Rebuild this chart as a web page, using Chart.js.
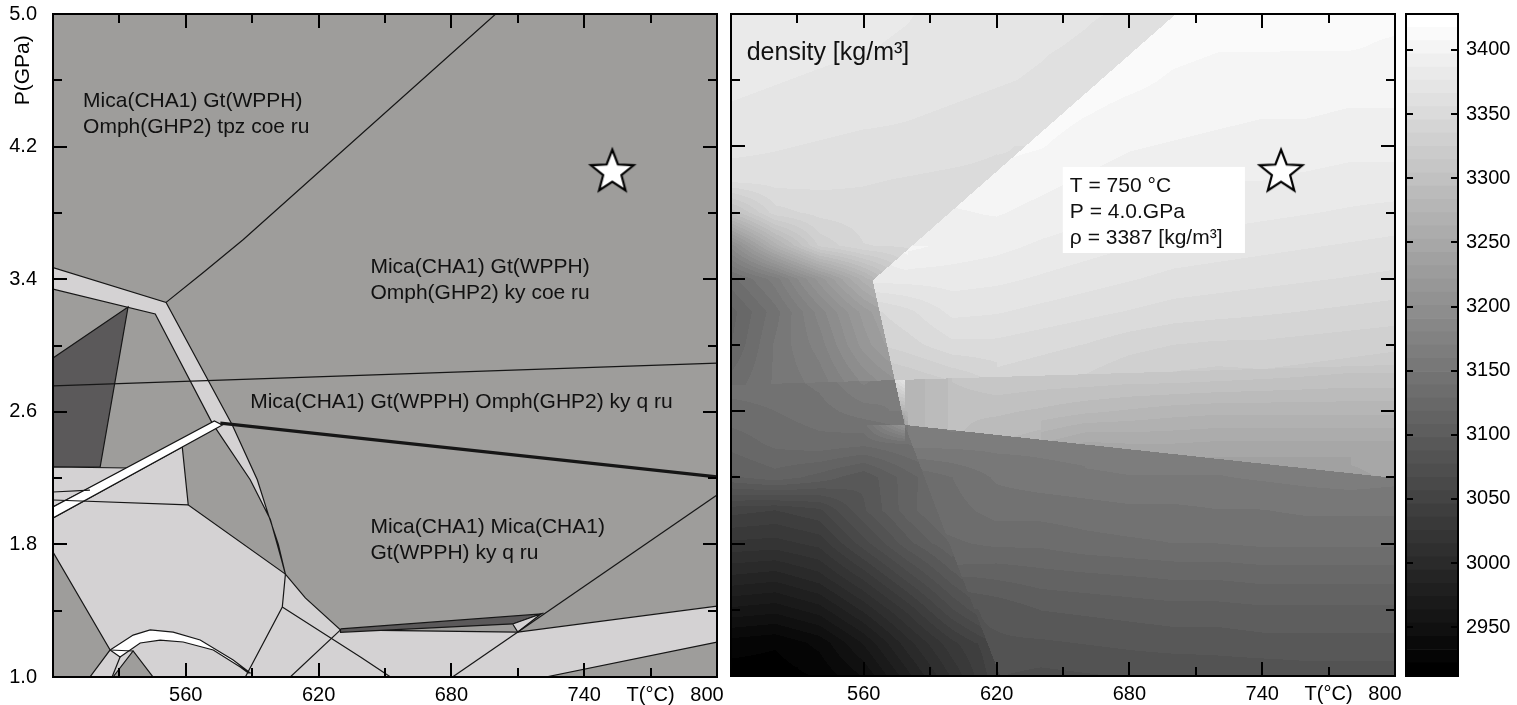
<!DOCTYPE html>
<html><head><meta charset="utf-8">
<script src="https://cdn.jsdelivr.net/npm/chart.js@4.4.1/dist/chart.umd.min.js"></script>
<style>
html,body{margin:0;padding:0;background:#fff;overflow:hidden;}
#wrap{position:relative;width:1517px;height:705px;}
canvas{position:absolute;left:0;top:0;}
</style></head><body>
<div id="wrap">
<canvas id="c1" width="1517" height="705"></canvas>
<canvas id="c2" width="1517" height="705"></canvas>
<canvas id="c3" width="1517" height="705"></canvas>
</div>
<script>
// ---------- axes ----------
const T_MIN = 500, T_MAX = 800, P_MIN = 1.0, P_MAX = 5.0;
const T_TICKS  = [530, 560, 590, 620, 650, 680, 710, 740, 770, 800];
const T_LABELS = ['', '560', '', '620', '', '680', '', '740', 'T(°C)', '800\u2003'];
const P_TICKS  = [1.0, 1.4, 1.8, 2.2, 2.6, 3.0, 3.4, 3.8, 4.2, 4.6, 5.0];
const P_LABELS = ['1.0', '', '1.8', '', '2.6', '', '3.4', '', '4.2', '', '5.0'];
const RHO_TICKS = [2950, 3000, 3050, 3100, 3150, 3200, 3250, 3300, 3350, 3400];
const RHO_MIN = 2912, RHO_MAX = 3428, RHO_LEVELS = 50;

// ---------- phase fields (T °C, P GPa) ----------
const fieldLightMain = [[500,1.959],[558.4,2.388],[561.1,2.038],[605,1.621],[614,1.477],[629.9,1.284],[710,1.271],[800,1.428],[800,1.211],[722.6,1.0],[516.7,1.0],[525.8,1.163],[500,1.754]];
const fieldLightBand = [[500,3.47],[551.1,3.26],[581,2.52],[592.3,2.19],[597.3,1.98],[601.8,1.80],[605,1.62],[603.2,1.71],[598.2,1.95],[589.1,2.19],[572,2.53],[546.2,3.19],[500,3.34]];
const fieldDark = [[500,2.925],[533.9,3.232],[521.3,2.267],[500,2.267]];
const fieldLightWedge = [[500,2.267],[533.9,2.261],[500,2.026]];
const fieldWhiteBand = [[500,2.026],[572.9,2.545],[576.5,2.520],[500,1.959]];
const fieldWhiteArc = [[525.8,1.163],[536.2,1.253],[543.9,1.284],[554.3,1.271],[566.5,1.223],[581.4,1.103],[589.1,1.024],[588.2,1.024],[584.6,1.06],[572.4,1.163],[558.8,1.211],[548.4,1.223],[539.4,1.205],[530.3,1.121]];
const fieldGreyTri = [[527.1,1.0],[536.2,1.157],[545.2,1.0]];
const fieldDarkSliver = [[629.9,1.29],[720.4,1.38],[707.7,1.32],[629.9,1.27]];
const fieldSliverTip = [[707.7,1.32],[720.4,1.38],[710,1.271]];

// ---------- reaction lines ----------
const lineTopCoe   = [[700,5.0],[586,3.64],[567.9,3.44],[551.1,3.26]];
const lineCoeQ     = [[500,2.756],[800,2.894]];
const lineThick    = [[575.6,2.532],[800,2.207]];
const lineR1Top    = [[500,2.068],[561.1,2.038]];
const lineLeftShort= [[500,2.116],[516.7,2.128]];
const lineR1Right  = [[605,1.62],[603.6,1.422],[586.9,1.0]];
const lineLowA     = [[603.6,1.422],[638.9,1.121],[652.5,1.0]];
const lineLowB     = [[607.2,1.0],[629.9,1.284]];
const lineDiag     = [[680.5,1.0],[800,2.098]];
const lineArcBase  = [[525.8,1.163],[536.2,1.157]];
const lineArcFoot  = [[530.3,1.121],[526.7,1.0]];

// ---------- field labels ----------
const fieldLabels = [
  {t:513.6, p:4.44,  lines:['Mica(CHA1) Gt(WPPH)','Omph(GHP2) tpz coe ru']},
  {t:643.4, p:3.437, lines:['Mica(CHA1) Gt(WPPH)','Omph(GHP2) ky coe ru']},
  {t:589.1, p:2.623, lines:['Mica(CHA1) Gt(WPPH) Omph(GHP2) ky q ru']},
  {t:643.4, p:1.869, lines:['Mica(CHA1) Mica(CHA1)','Gt(WPPH) ky q ru']}
];
const starLeft  = [{x:752.7, y:4.052}];
const starRight = [{x:748.5, y:4.05}];
const infoLines = ['T = 750 °C', 'P = 4.0.GPa', 'ρ = 3387 [kg/m³]'];
const infoBox = {t1:649.9, t2:732.2, p1:4.076, p2:3.556, tx:653.1, baselines:[3.924,3.767,3.61]};
const densityTitle = {t:507.1, p:4.722, text:'density [kg/m³]'};

// ---------- density grid (kg/m3) ----------
const DENS_T = [500,520,540,560,580,600,620,640,660,680,700,720,740,760,780,800];
const DENS_P = [5.0,4.8,4.6,4.4,4.2,4.0,3.8,3.6,3.4,3.2,3.0,2.8,2.6,2.4,2.2,2.0,1.8,1.6,1.4,1.2,1.0];
const DENS_ROWS = [
 [3385,3383,3381,3379,3377,3373,3371,3369,3367,3365,3363,3412,3410,3410,3410,3410],
 [3383,3381,3379,3377,3375,3371,3369,3367,3365,3361,3410,3408,3408,3408,3408,3406],
 [3379,3377,3375,3373,3371,3369,3367,3365,3361,3410,3406,3404,3404,3402,3402,3402],
 [3375,3373,3371,3369,3367,3365,3363,3361,3408,3404,3402,3400,3398,3398,3396,3396],
 [3369,3367,3365,3363,3363,3361,3357,3408,3402,3398,3396,3394,3392,3392,3390,3390],
 [3361,3361,3359,3357,3355,3353,3404,3400,3396,3392,3390,3387,3387,3385,3383,3383],
 [3296,3341,3349,3351,3349,3396,3398,3394,3390,3385,3383,3381,3379,3377,3375,3373],
 [3195,3268,3327,3345,3347,3394,3390,3385,3381,3377,3373,3371,3369,3367,3365,3363],
 [3135,3165,3216,3268,3381,3381,3379,3375,3371,3367,3363,3361,3359,3357,3355,3353],
 [3114,3145,3185,3226,3353,3369,3367,3363,3359,3355,3351,3349,3347,3345,3343,3341],
 [3118,3151,3175,3216,3341,3353,3353,3349,3345,3339,3335,3333,3333,3331,3329,3327],
 [3131,3151,3165,3195,3317,3327,3313,3311,3311,3309,3309,3307,3305,3303,3301,3301],
 [3135,3139,3145,3155,3276,3296,3296,3292,3286,3282,3278,3276,3276,3276,3276,3276],
 [3122,3131,3135,3131,3139,3163,3163,3163,3250,3252,3252,3250,3250,3250,3250,3250],
 [3106,3114,3104,3090,3114,3139,3151,3155,3157,3159,3159,3159,3161,3163,3165,3246],
 [3050,3046,3054,3086,3114,3135,3143,3143,3145,3147,3147,3149,3149,3151,3151,3151],
 [3023,3021,3029,3062,3094,3127,3131,3131,3135,3137,3139,3139,3141,3141,3141,3141],
 [2993,2989,3001,3029,3062,3094,3110,3114,3116,3118,3120,3120,3122,3122,3122,3122],
 [2961,2957,2969,2997,3029,3066,3090,3098,3100,3102,3104,3104,3106,3106,3106,3106],
 [2928,2924,2936,2965,3001,3033,3086,3086,3088,3090,3092,3092,3094,3094,3094,3094],
 [2916,2916,2924,2944,2981,3017,3054,3074,3076,3078,3078,3080,3080,3082,3082,3082]
];
// sharp steps of the density field (T °C, P GPa)
const densEdgeCoe   = [[578.5,2.517],[564,3.39],[701,5.0]];
const densEdgeThick = [[578.5,2.517],[800,2.196]];
const densEdgeQ     = [[500,2.758],[800,2.88]];
const densEdgeCurve = [[578.5,2.517],[604.4,1.598],[621.6,1.0]];

// ---------- styling ----------
const FONT = "'Liberation Sans', Arial, Helvetica, sans-serif";
Chart.defaults.font.family = FONT;
Chart.defaults.font.size = 20;
Chart.defaults.color = '#000';
const C_MED = 'rgb(158,157,155)', C_LIGHT = 'rgb(212,210,211)', C_DARK = 'rgb(91,89,90)', C_WHITE = '#ffffff';
const LINE_C = '#161616';

function pts(a){ return a.map(p => ({x:p[0], y:p[1]})); }
function poly(a, col){ return {data: pts(a.concat([a[0]])), showLine:true, fill:'shape', backgroundColor:col, borderColor:LINE_C, borderWidth:1.2, pointRadius:0, tension:0}; }
function line(a, w){ return {data: pts(a), showLine:true, fill:false, borderColor:LINE_C, borderWidth:w||1.2, pointRadius:0, tension:0}; }

const rhoStep = (RHO_MAX - RHO_MIN) / RHO_LEVELS;
function levelGrey(k){ return Math.round(k / (RHO_LEVELS - 1) * 255); }
function greyFor(v){ let k = Math.floor((v - RHO_MIN) / rhoStep); k = Math.max(0, Math.min(RHO_LEVELS - 1, k)); return levelGrey(k); }

// polyline helpers
function pAtT(pl, T){ for (let i = 0; i < pl.length - 1; i++){ const a = pl[i], b = pl[i+1]; if (T <= b[0] || i === pl.length - 2){ const f = (T - a[0]) / (b[0] - a[0]); return a[1] + f * (b[1] - a[1]); } } return pl[0][1]; }
function tAtP(pl, P){
  for (let i = 0; i < pl.length - 1; i++){ const a = pl[i], b = pl[i+1]; const lo = Math.min(a[1], b[1]), hi = Math.max(a[1], b[1]);
    if ((P >= lo && P <= hi) || i === pl.length - 2){ const f = (P - a[1]) / (b[1] - a[1]); return a[0] + f * (b[0] - a[0]); } }
  return pl[0][0];
}
function edgeSig(T, P){
  const sL = P < densEdgeCoe[0][1] ? 0 : (T < tAtP(densEdgeCoe, P) ? -1 : 1);
  const sT = T < densEdgeThick[0][0] ? 0 : (P > pAtT(densEdgeThick, T) ? 1 : -1);
  const sQ = P > pAtT(densEdgeQ, T) ? 1 : -1;
  const sC = P > densEdgeCurve[0][1] ? 0 : (T < tAtP(densEdgeCurve, P) ? -1 : 1);
  return [sL, sT, sQ, sC];
}
function compat(a, b){ for (let k = 0; k < a.length; k++) if (a[k] * b[k] < 0) return false; return true; }
const NX = DENS_T.length, NY = DENS_P.length;
const NODE_SIG = DENS_P.map(P => DENS_T.map(T => edgeSig(T, P)));
function nodeOk(sig, i, j){ return i >= 0 && j >= 0 && i < NX && j < NY && compat(sig, NODE_SIG[j][i]); }
function nv(i, j){ return DENS_ROWS[j][i]; }

// replace a node lying across a step by continuing the field from the pixel's side
function sideValue(sig, i, j, iO, jO){
  let acc = 0, n = 0;
  if (nodeOk(sig, i, jO)){ let v = nv(i, jO); const j2 = 2 * jO - j; if (nodeOk(sig, i, j2)) v += 0.8 * (nv(i, jO) - nv(i, j2)); acc += v; n++; }
  if (nodeOk(sig, iO, j)){ let v = nv(iO, j); const i2 = 2 * iO - i; if (nodeOk(sig, i2, j)) v += 0.8 * (nv(iO, j) - nv(i2, j)); acc += v; n++; }
  if (n) return acc / n;
  if (nodeOk(sig, iO, jO)) return nv(iO, jO);
  return null;
}

function sampleDensity(T, P){
  let fx = (T - DENS_T[0]) / (DENS_T[NX-1] - DENS_T[0]) * (NX - 1);
  let fy = (DENS_P[0] - P) / (DENS_P[0] - DENS_P[NY-1]) * (NY - 1);
  fx = Math.max(0, Math.min(NX - 1, fx)); fy = Math.max(0, Math.min(NY - 1, fy));
  const i0 = Math.min(NX - 2, Math.floor(fx)), j0 = Math.min(NY - 2, Math.floor(fy));
  const tx = fx - i0, ty = fy - j0;
  const sig = edgeSig(T, P);
  const c = [[i0, j0, i0+1, j0+1, (1-tx)*(1-ty)], [i0+1, j0, i0, j0+1, tx*(1-ty)], [i0, j0+1, i0+1, j0, (1-tx)*ty], [i0+1, j0+1, i0, j0, tx*ty]];
  let sv = 0, sw = 0, missing = false;
  for (const [i, j, iO, jO, w] of c){
    let v = nodeOk(sig, i, j) ? nv(i, j) : sideValue(sig, i, j, iO, jO);
    if (v === null){ missing = true; continue; }
    sv += w * v; sw += w;
  }
  if (!missing && sw > 0) return sv / sw;
  let bw = 0, bv = 0;
  for (let j = Math.max(0, j0 - 1); j <= Math.min(NY - 1, j0 + 2); j++)
    for (let i = Math.max(0, i0 - 1); i <= Math.min(NX - 1, i0 + 2); i++){
      if (!nodeOk(sig, i, j)) continue;
      const d2 = (i - fx) * (i - fx) + (j - fy) * (j - fy) + 1e-3; const w = 1 / (d2 * d2);
      bw += w; bv += w * nv(i, j);
    }
  if (bw > 0) return bv / bw;
  return sw > 0 ? sv / sw : nv(i0, j0);
}

// star point style
function makeStar(){
  const c = document.createElement('canvas'); c.width = 52; c.height = 52;
  const g = c.getContext('2d'); const R = 22.5, r = 9.6, cx = 26, cy = 27;
  g.beginPath();
  for (let i = 0; i < 10; i++){
    const ang = -Math.PI / 2 + i * Math.PI / 5; const rr = i % 2 ? r : R;
    const x = cx + rr * Math.cos(ang), y = cy + rr * Math.sin(ang);
    if (i === 0) g.moveTo(x, y); else g.lineTo(x, y);
  }
  g.closePath(); g.fillStyle = '#fff'; g.fill(); g.lineWidth = 2.2; g.lineJoin = 'miter'; g.strokeStyle = '#000'; g.stroke();
  return c;
}
const STAR = makeStar();
function starSet(d){ return {data:d, showLine:false, pointStyle:STAR, pointRadius:22, fill:false}; }

function framePlugin(withX, withY){
  return {
    id: 'frameTicks',
    afterDraw(chart){
      const {ctx, chartArea:a} = chart; const xs = chart.scales.x, ys = chart.scales.y;
      ctx.save(); ctx.strokeStyle = '#000'; ctx.lineWidth = 2; ctx.beginPath();
      if (withX) T_TICKS.forEach((v, i) => {
        const px = Math.round(xs.getPixelForValue(v)); const L = /^\d/.test(T_LABELS[i]) ? 14 : 9;
        ctx.moveTo(px, a.bottom); ctx.lineTo(px, a.bottom - L);
        ctx.moveTo(px, a.top); ctx.lineTo(px, a.top + L);
      });
      if (withY) P_TICKS.forEach((v, i) => {
        const py = Math.round(ys.getPixelForValue(v)); const L = P_LABELS[i] ? 14 : 9;
        ctx.moveTo(a.left, py); ctx.lineTo(a.left + L, py);
        ctx.moveTo(a.right, py); ctx.lineTo(a.right - L, py);
      });
      ctx.stroke();
      ctx.strokeRect(a.left, a.top, a.right - a.left, a.bottom - a.top);
      ctx.restore();
    }
  };
}

function axisScales(xFitH, yFitW, yDisplay){
  return {
    x: {type:'linear', min:T_MIN, max:T_MAX, grid:{display:false, drawTicks:false}, border:{display:false},
        afterBuildTicks: s => { s.ticks = T_TICKS.map(v => ({value:v})); },
        afterFit: s => { s.height = xFitH; s.paddingLeft = 0; s.paddingRight = 0; },
        ticks:{autoSkip:false, maxRotation:0, minRotation:0, padding:6, callback:(v, i) => T_LABELS[i]}},
    y: {type:'linear', min:P_MIN, max:P_MAX, display:yDisplay, grid:{display:false, drawTicks:false}, border:{display:false},
        afterBuildTicks: s => { s.ticks = P_TICKS.map(v => ({value:v})); },
        afterFit: s => { s.width = yFitW; s.paddingTop = 0; s.paddingBottom = 0; },
        ticks:{autoSkip:false, padding:16, callback:(v, i) => P_LABELS[i]}}
  };
}

// ---------- left panel ----------
const ds1 = [
  poly(fieldLightMain, C_LIGHT),
  poly(fieldLightBand, C_LIGHT),
  poly(fieldDark, C_DARK),
  poly(fieldLightWedge, C_LIGHT),
  poly(fieldWhiteBand, C_WHITE),
  poly(fieldWhiteArc, C_WHITE),
  poly(fieldGreyTri, C_MED),
  poly(fieldDarkSliver, C_DARK),
  poly(fieldSliverTip, C_LIGHT),
  line(lineTopCoe), line(lineCoeQ), line(lineThick, 3.2), line(lineR1Top), line(lineLeftShort),
  line(lineR1Right), line(lineLowA), line(lineLowB), line(lineDiag), line(lineArcBase), line(lineArcFoot),
  starSet(starLeft)
];
ds1.forEach((d, i) => { d.order = ds1.length - i; });

const bgPlugin = {
  id:'bg',
  beforeDatasetsDraw(chart){ const {ctx, chartArea:a} = chart; ctx.save(); ctx.fillStyle = C_MED; ctx.fillRect(a.left, a.top, a.right - a.left, a.bottom - a.top); ctx.restore(); }
};
const leftText = {
  id:'leftText',
  afterDatasetsDraw(chart){
    const {ctx} = chart; const xs = chart.scales.x, ys = chart.scales.y;
    ctx.save(); ctx.fillStyle = '#111'; ctx.font = '21px ' + FONT; ctx.textBaseline = 'alphabetic'; ctx.textAlign = 'left';
    fieldLabels.forEach(L => {
      const x = xs.getPixelForValue(L.t), y = ys.getPixelForValue(L.p);
      L.lines.forEach((s, k) => ctx.fillText(s, x, y + k * 26));
    });
    ctx.restore();
  },
  afterDraw(chart){
    const {ctx, chartArea:a} = chart; const ys = chart.scales.y;
    ctx.save(); ctx.fillStyle = '#000'; ctx.font = '21px ' + FONT; ctx.textAlign = 'center'; ctx.textBaseline = 'middle';
    ctx.translate(a.left - 30, ys.getPixelForValue(4.66)); ctx.rotate(-Math.PI / 2); ctx.fillText('P(GPa)', 0, 0);
    ctx.restore();
  }
};
new Chart(document.getElementById('c1'), {
  type:'scatter', data:{datasets:ds1},
  options:{responsive:false, animation:false, events:[],
    layout:{autoPadding:false, padding:{left:0, right:800, top:14, bottom:0}},
    plugins:{legend:{display:false}, tooltip:{enabled:false}},
    scales: axisScales(28, 53, true)},
  plugins:[bgPlugin, leftText, framePlugin(true, true)]
});

// ---------- right panel ----------
const densityPlugin = {
  id:'density',
  beforeDatasetsDraw(chart){
    const {ctx, chartArea:a} = chart; const xs = chart.scales.x, ys = chart.scales.y;
    const x0 = Math.round(a.left), y0 = Math.round(a.top);
    const w = Math.round(a.right) - x0, h = Math.round(a.bottom) - y0;
    const off = document.createElement('canvas'); off.width = w; off.height = h;
    const o = off.getContext('2d'); const img = o.createImageData(w, h); const d = img.data;
    for (let j = 0; j < h; j++){
      const P = ys.getValueForPixel(y0 + j + 0.5);
      for (let i = 0; i < w; i++){
        const T = xs.getValueForPixel(x0 + i + 0.5);
        const g = greyFor(sampleDensity(T, P)); const k = (j * w + i) * 4;
        d[k] = g; d[k+1] = g; d[k+2] = g; d[k+3] = 255;
      }
    }
    o.putImageData(img, 0, 0); ctx.drawImage(off, x0, y0);
  }
};
const rightText = {
  id:'rightText',
  afterDatasetsDraw(chart){
    const {ctx} = chart; const xs = chart.scales.x, ys = chart.scales.y;
    ctx.save();
    ctx.fillStyle = '#111'; ctx.font = '25px ' + FONT; ctx.textAlign = 'left'; ctx.textBaseline = 'alphabetic';
    ctx.fillText(densityTitle.text, xs.getPixelForValue(densityTitle.t), ys.getPixelForValue(densityTitle.p));
    const bx1 = xs.getPixelForValue(infoBox.t1), bx2 = xs.getPixelForValue(infoBox.t2);
    const by1 = ys.getPixelForValue(infoBox.p1), by2 = ys.getPixelForValue(infoBox.p2);
    ctx.fillStyle = '#fff'; ctx.fillRect(bx1, by1, bx2 - bx1, by2 - by1);
    ctx.fillStyle = '#111'; ctx.font = '21px ' + FONT;
    infoLines.forEach((s, k) => ctx.fillText(s, xs.getPixelForValue(infoBox.tx), ys.getPixelForValue(infoBox.baselines[k])));
    ctx.restore();
  }
};
const ds2 = [starSet(starRight)];
new Chart(document.getElementById('c2'), {
  type:'scatter', data:{datasets:ds2},
  options:{responsive:false, animation:false, events:[],
    layout:{autoPadding:false, padding:{left:731, right:122, top:14, bottom:0}},
    plugins:{legend:{display:false}, tooltip:{enabled:false}},
    scales: axisScales(29, 0, false)},
  plugins:[densityPlugin, rightText, framePlugin(true, true)]
});

// ---------- colour bar ----------
const cbSets = [];
for (let k = 0; k < RHO_LEVELS; k++){
  const g = levelGrey(k);
  cbSets.push({data:[[RHO_MIN + k * rhoStep, RHO_MIN + (k + 1) * rhoStep]], backgroundColor:`rgb(${g},${g},${g})`,
    borderWidth:0, grouped:false, barPercentage:1, categoryPercentage:1});
}
const cbFrame = {
  id:'cbFrame',
  afterDraw(chart){
    const {ctx, chartArea:a} = chart; const ys = chart.scales.y;
    ctx.save(); ctx.strokeStyle = '#000'; ctx.lineWidth = 2; ctx.beginPath();
    RHO_TICKS.forEach(v => { const py = Math.round(ys.getPixelForValue(v));
      ctx.moveTo(a.left, py); ctx.lineTo(a.left + 7, py); ctx.moveTo(a.right, py); ctx.lineTo(a.right - 7, py); });
    ctx.stroke(); ctx.strokeRect(a.left, a.top, a.right - a.left, a.bottom - a.top); ctx.restore();
  }
};
new Chart(document.getElementById('c3'), {
  type:'bar', data:{labels:['ρ'], datasets:cbSets},
  options:{responsive:false, animation:false, events:[],
    layout:{autoPadding:false, padding:{left:1406, right:0, top:14, bottom:29}},
    plugins:{legend:{display:false}, tooltip:{enabled:false}},
    scales:{
      x:{display:false},
      y:{position:'right', min:RHO_MIN, max:RHO_MAX, grid:{display:false, drawTicks:false}, border:{display:false},
         afterBuildTicks: s => { s.ticks = RHO_TICKS.map(v => ({value:v})); },
         afterFit: s => { s.width = 59; s.paddingTop = 0; s.paddingBottom = 0; },
         ticks:{autoSkip:false, padding:8, callback: v => String(v)}}
    }},
  plugins:[cbFrame]
});
</script>
</body></html>
